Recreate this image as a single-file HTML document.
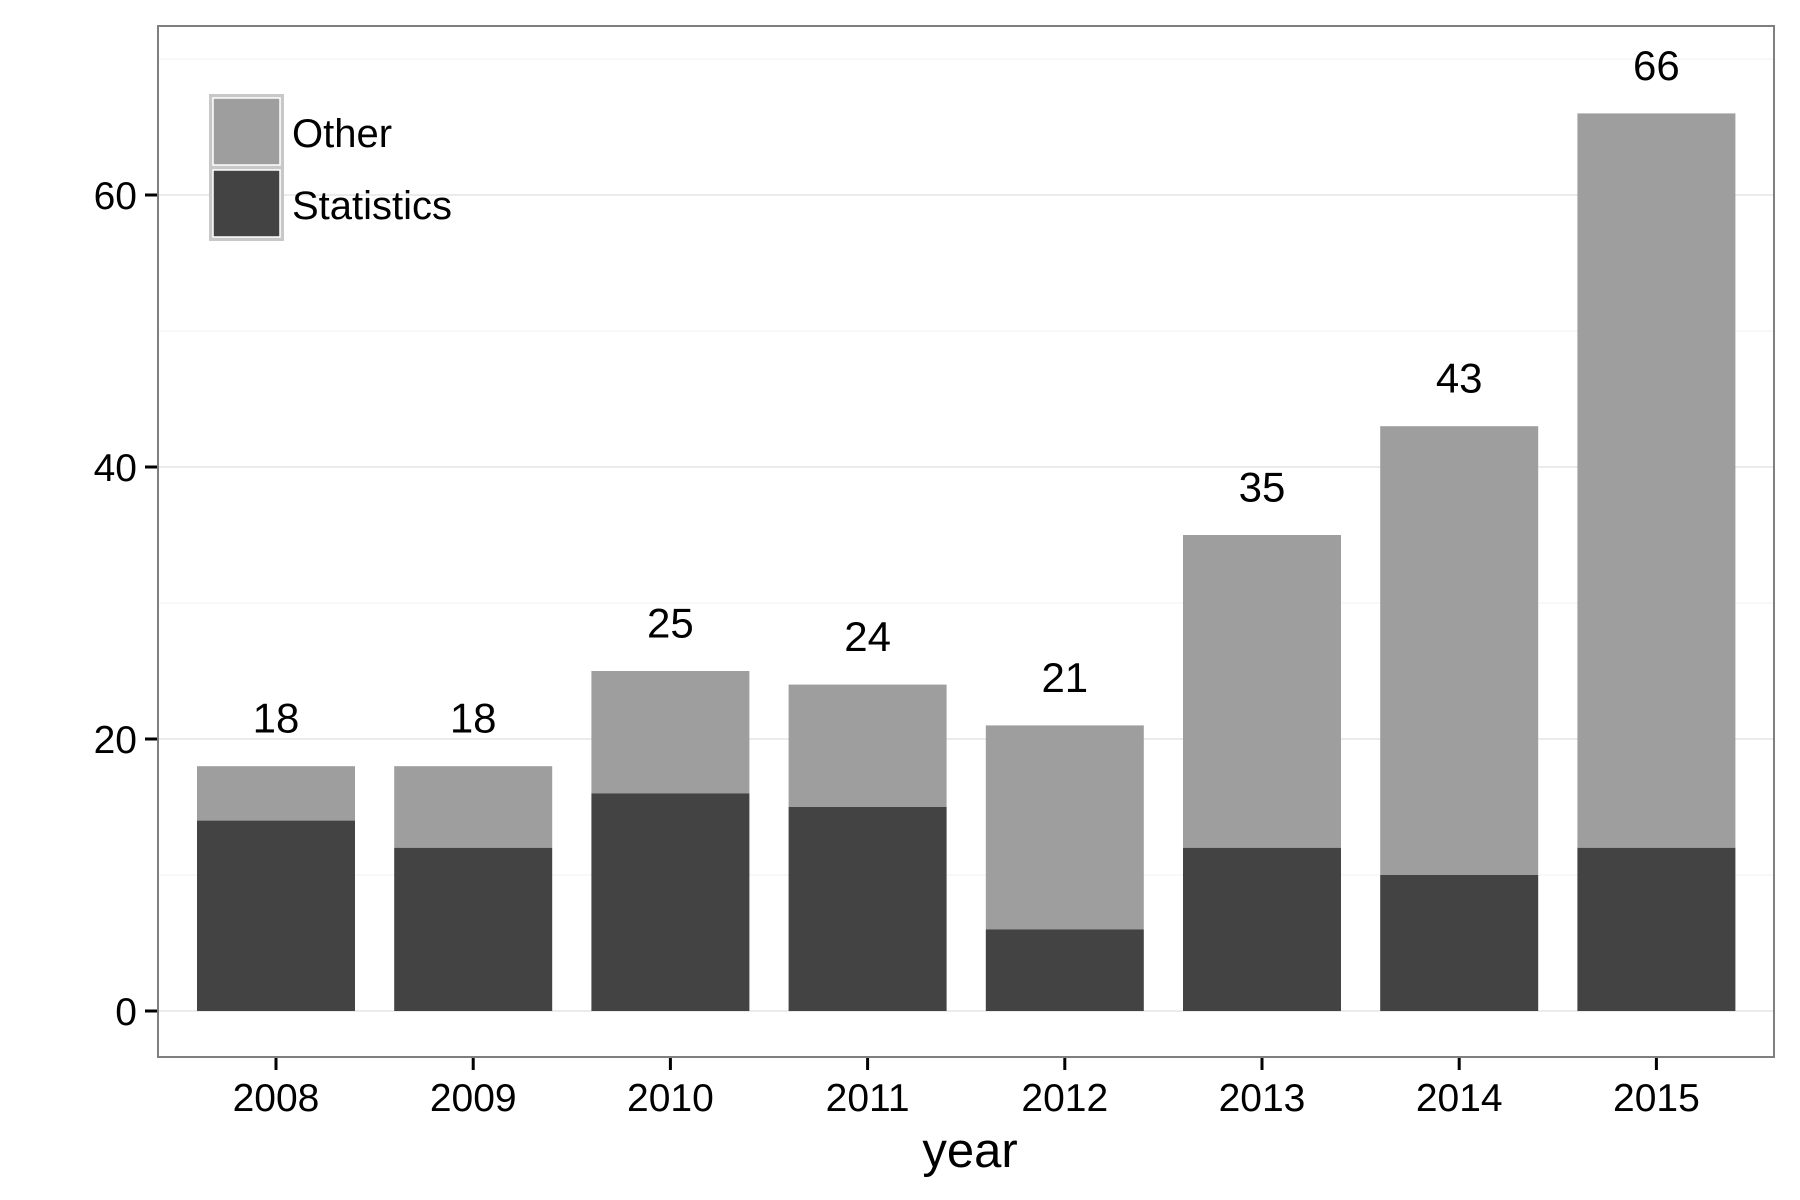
<!DOCTYPE html>
<html><head><meta charset="utf-8"><style>
body{margin:0;background:#fff}
svg{display:block;font-family:"Liberation Sans",Arial,sans-serif}
</style></head><body>
<svg id="chart" width="1800" height="1200">
<rect width="1800" height="1200" fill="#fff"/>
<g id="grid"></g><g id="bars"></g><g id="labels"></g><g id="axes"></g>
<rect x="158" y="26" width="1616" height="1031" fill="none" stroke="#7f7f7f" stroke-width="2"/>
<g>
<rect x="209" y="94" width="75" height="147" fill="#c8c8c8"/>
<rect x="213" y="98" width="67" height="67" fill="#9e9e9e" stroke="#fff" stroke-width="1.5"/>
<rect x="213" y="170" width="67" height="67" fill="#434343" stroke="#fff" stroke-width="1.5"/>
<text x="292" y="147" font-size="40">Other</text>
<text x="292" y="219" font-size="40">Statistics</text>
</g>
<text x="970" y="1167" font-size="49" text-anchor="middle">year</text>
</svg>
<script>
const years=["2008","2009","2010","2011","2012","2013","2014","2015"];
const statistics=[14,12,16,15,6,12,10,12];
const totals=[18,18,25,24,21,35,43,66];
const yTicks=[0,20,40,60];
const yMinor=[10,30,50,70];
const NS="http://www.w3.org/2000/svg";
const y=v=>1011-v*13.6;
const x=i=>276+i*197.2;
const bw=158;
function mk(p,tag,attrs){const e=document.createElementNS(NS,tag);for(const k in attrs)e.setAttribute(k,attrs[k]);p.appendChild(e);return e;}
const grid=document.getElementById('grid'),bars=document.getElementById('bars'),labels=document.getElementById('labels'),axes=document.getElementById('axes');
yMinor.forEach(v=>{const l=mk(grid,'line',{x1:159,x2:1773,y1:y(v),y2:y(v),stroke:'#f5f5f5','stroke-width':1.5});

});
yTicks.forEach(v=>{const l=mk(grid,'line',{x1:159,x2:1773,y1:y(v),y2:y(v),stroke:'#ebebeb','stroke-width':2});


const t=mk(axes,'line',{x1:145,x2:158,y1:y(v),y2:y(v),stroke:'#000','stroke-width':3});


const tx=mk(axes,'text',{x:137,y:y(v)+14,'font-size':39,'text-anchor':'end'});tx.textContent=v;

});
years.forEach((yr,i)=>{const cx=x(i);
const o=mk(bars,'rect',{x:cx-bw/2,y:y(totals[i]),width:bw,height:y(statistics[i])-y(totals[i]),fill:'#9e9e9e'});


const s=mk(bars,'rect',{x:cx-bw/2,y:y(statistics[i]),width:bw,height:y(0)-y(statistics[i]),fill:'#434343'});


const lb=mk(labels,'text',{x:cx,y:y(totals[i]+3.5)+14,'font-size':42,'text-anchor':'middle'});lb.textContent=totals[i];


const t=mk(axes,'line',{x1:cx,x2:cx,y1:1057,y2:1070,stroke:'#000','stroke-width':3});


const tx=mk(axes,'text',{x:cx,y:1111,'font-size':39,'text-anchor':'middle'});tx.textContent=yr;

});
</script>
</body></html>
